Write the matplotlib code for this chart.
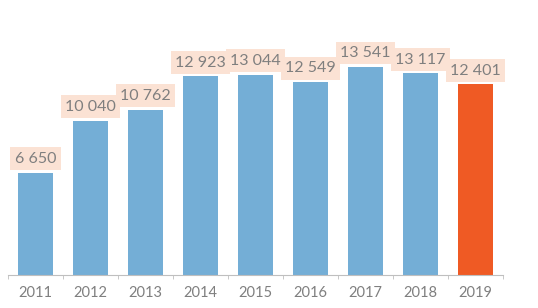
import numpy as np
import matplotlib
matplotlib.use("Agg")
import matplotlib.pyplot as plt

years = ["2011", "2012", "2013", "2014", "2015", "2016", "2017", "2018", "2019"]
values = [6650, 10040, 10762, 12923, 13044, 12549, 13541, 13117, 12401]
labels = ["6 650", "10 040", "10 762", "12 923", "13 044", "12 549", "13 541", "13 117", "12 401"]

plt.rcParams['font.family'] = ['Lato', 'DejaVu Sans']

blue = "#74aed6"
orange = "#ef5a24"
grey = "#7f7f7f"

fig = plt.figure(figsize=(5.38, 3.08), dpi=100)
ax = fig.add_axes([8 / 538, 33 / 308, 495 / 538, 275 / 308])

x = np.arange(len(years))
colors = [blue] * (len(years) - 1) + [orange]
ax.bar(x, values, width=0.62, color=colors)

for xi, v, lab in zip(x, values, labels):
    ax.annotate(lab, (xi, v), xytext=(0, 5), textcoords="offset points",
                ha="center", va="bottom", fontsize=11.5, color=grey,
                bbox=dict(boxstyle="square,pad=0.28", fc="#fbe2d4", ec="none"))

ax.set_xlim(-0.5, len(years) - 0.5)
ax.set_ylim(0, 17900)
ax.set_yticks([])
ax.set_xticks(x)
ax.set_xticklabels(years, fontsize=10.5, color=grey)
ax.set_xticks(np.arange(-0.5, len(years)), minor=True)
ax.tick_params(axis="x", which="major", length=0, pad=8)
ax.tick_params(axis="x", which="minor", length=3, color="#bfbfbf", direction="out")

for s in ["top", "right", "left"]:
    ax.spines[s].set_visible(False)
ax.spines["bottom"].set_color("#bfbfbf")

fig.savefig("out.png", dpi=100)
